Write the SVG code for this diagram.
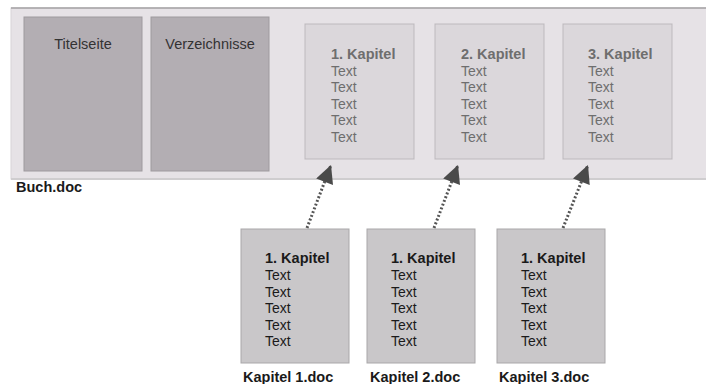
<svg xmlns="http://www.w3.org/2000/svg" width="706" height="384" viewBox="0 0 706 384">
<style>
.t{font-family:"Liberation Sans",Arial,sans-serif;font-size:14px}
.b{font-weight:bold;font-size:14.5px}
.top text{fill:#6e6e6e}
.bot text{fill:#1a1a1a}
.dark{fill:#b3aeb3;stroke:#9e9a9e;stroke-width:1}
.light{fill:#dbd7db;stroke:#bdb9bd;stroke-width:1}
.page{fill:#c9c7c9;stroke:#a9a7a9;stroke-width:1}
.lbl{font-family:"Liberation Sans",Arial,sans-serif;font-size:14.5px;font-weight:bold;fill:#1a1a1a}
.con{stroke:#555;stroke-width:3;stroke-dasharray:2 2;fill:none}
</style>
<defs>
<marker id="ah" viewBox="0 0 10 10" refX="10" refY="5" markerWidth="6.5" markerHeight="6" markerUnits="strokeWidth" orient="auto">
<path d="M0,0 L10,5 L0,10 z" fill="#4a4a4a"/>
</marker>
</defs>
<rect width="706" height="384" fill="#ffffff"/>
<g id="buch">
<rect x="11" y="8" width="700" height="171" fill="#e6e2e6" stroke="#d8d4d8"/>
<line x1="11" y1="8" x2="706" y2="8" stroke="#a4a2a4" stroke-width="1.5"/>
<line x1="11" y1="179" x2="706" y2="179" stroke="#cfcdcf" stroke-width="2"/>
<text class="lbl" x="16" y="192">Buch.doc</text>
</g>
<g id="titelseite" class="t">
<rect class="dark" x="24" y="17" width="118" height="154"/>
<text x="83" y="49" text-anchor="middle" font-size="14.5" fill="#333">Titelseite</text>
</g>
<g id="verzeichnisse" class="t">
<rect class="dark" x="151" y="17" width="118" height="154"/>
<text x="210" y="49" text-anchor="middle" font-size="14.5" fill="#333">Verzeichnisse</text>
</g>
<g id="kap1" class="t top">
<rect class="light" x="305" y="24" width="109" height="135"/>
<text x="331" y="59" class="b">1. Kapitel</text>
<text x="331" y="76">Text</text><text x="331" y="92">Text</text><text x="331" y="109">Text</text><text x="331" y="125">Text</text><text x="331" y="142">Text</text>
</g>
<g id="kap2" class="t top">
<rect class="light" x="435" y="24" width="109" height="135"/>
<text x="461" y="59" class="b">2. Kapitel</text>
<text x="461" y="76">Text</text><text x="461" y="92">Text</text><text x="461" y="109">Text</text><text x="461" y="125">Text</text><text x="461" y="142">Text</text>
</g>
<g id="kap3" class="t top">
<rect class="light" x="563" y="24" width="109" height="135"/>
<text x="588" y="59" class="b">3. Kapitel</text>
<text x="588" y="76">Text</text><text x="588" y="92">Text</text><text x="588" y="109">Text</text><text x="588" y="125">Text</text><text x="588" y="142">Text</text>
</g>
<g id="doc1" class="t bot">
<rect class="page" x="241" y="229" width="108" height="134"/>
<text x="265" y="263" class="b">1. Kapitel</text>
<text x="265" y="280">Text</text><text x="265" y="297">Text</text><text x="265" y="313">Text</text><text x="265" y="330">Text</text><text x="265" y="346">Text</text>
<text class="lbl" x="243" y="382">Kapitel 1.doc</text>
</g>
<g id="doc2" class="t bot">
<rect class="page" x="367" y="229" width="108" height="134"/>
<text x="391" y="263" class="b">1. Kapitel</text>
<text x="391" y="280">Text</text><text x="391" y="297">Text</text><text x="391" y="313">Text</text><text x="391" y="330">Text</text><text x="391" y="346">Text</text>
<text class="lbl" x="370" y="382">Kapitel 2.doc</text>
</g>
<g id="doc3" class="t bot">
<rect class="page" x="497" y="229" width="108" height="134"/>
<text x="521" y="263" class="b">1. Kapitel</text>
<text x="521" y="280">Text</text><text x="521" y="297">Text</text><text x="521" y="313">Text</text><text x="521" y="330">Text</text><text x="521" y="346">Text</text>
<text class="lbl" x="499" y="382">Kapitel 3.doc</text>
</g>
<g id="connectors">
<line class="con" x1="307" y1="228" x2="331" y2="165" marker-end="url(#ah)"/>
<line class="con" x1="434" y1="228" x2="458" y2="165" marker-end="url(#ah)"/>
<line class="con" x1="563" y1="228" x2="588" y2="165" marker-end="url(#ah)"/>
</g>
</svg>
